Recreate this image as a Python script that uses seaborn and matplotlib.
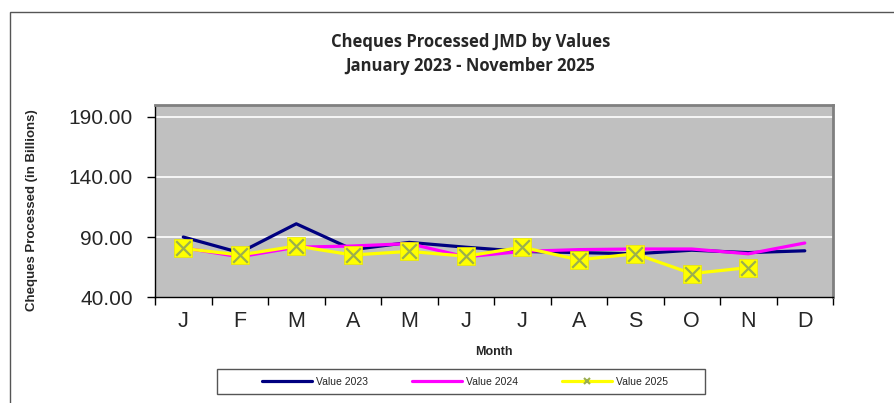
import numpy as np
import pandas as pd
import matplotlib
matplotlib.use("Agg")
import matplotlib.pyplot as plt
import seaborn as sns
from matplotlib.lines import Line2D
from matplotlib.patches import Rectangle

# values (JMD billions)
months = ["J", "F", "M", "A", "M", "J", "J", "A", "S", "O", "N", "D"]
value_2023 = [90.0, 77.0, 101.0, 79.5, 85.5, 81.5, 78.0, 77.0, 76.0, 79.0, 77.0, 78.5]
value_2024 = [81.0, 73.5, 81.5, 82.5, 84.5, 73.5, 78.0, 79.5, 80.0, 80.0, 76.0, 85.0]
value_2025 = [80.5, 75.0, 82.5, 75.0, 78.0, 74.0, 81.5, 71.0, 76.0, 59.5, 64.5]
series_names = ["Value 2023", "Value 2024", "Value 2025"]
y_ticks = [40, 90, 140, 190]

frames = []
for name, vals in zip(series_names, [value_2023, value_2024, value_2025]):
    frames.append(pd.DataFrame({"month": np.arange(len(vals)), "value": vals, "series": name}))
df = pd.concat(frames, ignore_index=True)

sns.set_theme(style="white")
plt.rcParams["font.family"] = ["Liberation Sans", "DejaVu Sans"]

fig = plt.figure(figsize=(8.94, 4.03), dpi=100)
ax = fig.add_axes([0.1734, 0.263, 0.7584, 0.4765])

colors = {"Value 2023": "#000080", "Value 2024": "#FF00FF", "Value 2025": "#FFFF00"}
sns.lineplot(data=df, x="month", y="value", hue="series", palette=colors,
             linewidth=2.3, sort=False, legend=False, ax=ax)

d25 = df[df["series"] == "Value 2025"]
sns.scatterplot(data=d25, x="month", y="value", marker="s", s=160, color="#FFFF00",
                edgecolor="#E8E800", linewidth=0.5, zorder=5, legend=False, ax=ax)
sns.scatterplot(data=d25, x="month", y="value", marker="x", s=110, color="#9BAF4E",
                linewidth=1.6, zorder=6, legend=False, ax=ax)

ax.set_facecolor("#C0C0C0")
ax.set_xlim(-0.5, 11.5)
ax.set_ylim(40, 200)
ax.set_yticks(y_ticks)
ax.set_yticklabels([f"{v:.2f}" for v in y_ticks], fontsize=15)
ax.set_xticks(range(12))
ax.set_xticklabels(months, fontsize=15.5)
ax.tick_params(axis="x", length=0, pad=10)
ax.set_xticks(np.arange(-0.5, 12, 1), minor=True)
ax.tick_params(axis="x", which="minor", length=6, width=1, color="black", direction="out", bottom=True)
ax.tick_params(axis="y", length=6, width=1, color="black", direction="out", left=True, pad=10)
for v in y_ticks[1:]:
    ax.axhline(v, color="white", linewidth=1.2, zorder=1)

for side in ["left", "bottom"]:
    ax.spines[side].set_color("#000000")
    ax.spines[side].set_linewidth(1)
for side in ["top", "right"]:
    ax.spines[side].set_color("#808080")
    ax.spines[side].set_linewidth(2)

ax.set_xlabel("Month", fontsize=9, fontweight="bold", labelpad=10)
ax.set_ylabel("Cheques Processed (in Billions)", fontsize=9.5, fontweight="bold")
ax.yaxis.set_label_coords(-0.172, 0.45)

fig.text(0.526, 0.895, "Cheques Processed JMD by Values", ha="center", va="center",
         fontsize=12, fontweight="bold", family=["Open Sans", "DejaVu Sans"])
fig.text(0.526, 0.835, "January 2023 - November 2025", ha="center", va="center",
         fontsize=12, fontweight="bold", family=["Open Sans", "DejaVu Sans"])

# outer chart border
fig.patches.append(Rectangle((10 / 894, -0.05), 1.0, 1 - 12 / 403 + 0.05, transform=fig.transFigure,
                             fill=False, edgecolor="#555555", linewidth=1))

# legend box drawn separately so it can be as wide as the original
fig.patches.append(Rectangle((217 / 894, 1 - 394 / 403), 488 / 894, 25 / 403, transform=fig.transFigure,
                             fill=False, edgecolor="#555555", linewidth=1))
handles = [
    Line2D([], [], color="#000080", linewidth=2.3),
    Line2D([], [], color="#FF00FF", linewidth=2.3),
    Line2D([], [], color="#FFFF00", linewidth=2.3, marker="x", markersize=4,
           markeredgecolor="#9BAF4E", markeredgewidth=1.5),
]
fig.legend(handles, series_names, loc="center", bbox_to_anchor=(0.52, 0.053),
           ncol=3, fontsize=7.5, frameon=False,
           handlelength=4.8, handletextpad=0.4, columnspacing=4.2)

fig.savefig("out.png", dpi=100)
